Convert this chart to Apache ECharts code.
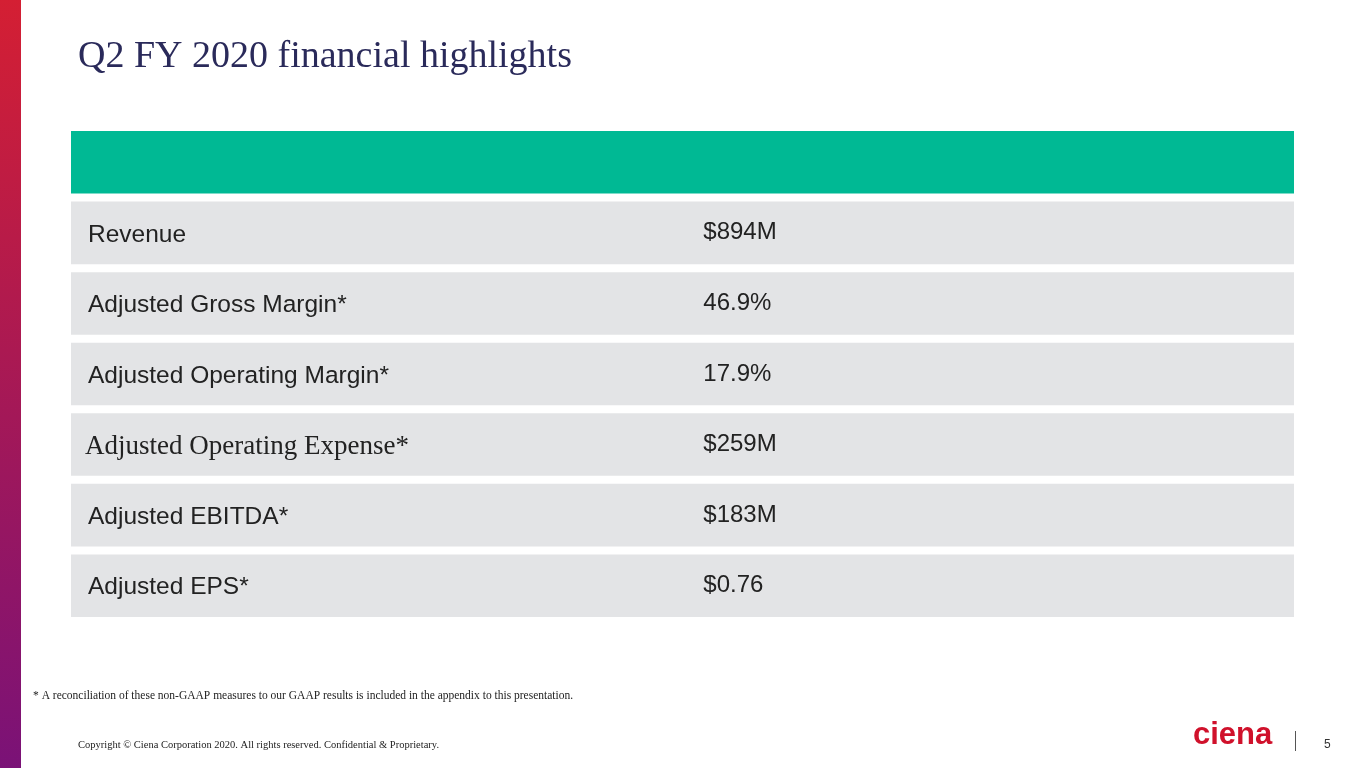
<!DOCTYPE html>
<html style="height: 100%">
<head>
    <meta charset="utf-8">
</head>
<body style="height: 100%; margin: 0">
<div id="container" style="height: 100%"></div>
<script type="text/javascript" src="https://cdn.jsdelivr.net/npm/echarts@6/dist/echarts.min.js"></script>
<script type="text/javascript">
  // rows of the highlights table (first one is the green header)
  const metrics = ['', 'Revenue', 'Adjusted Gross Margin*', 'Adjusted Operating Margin*',
    'Adjusted Operating Expense*', 'Adjusted EBITDA*', 'Adjusted EPS*'];
  const values = ['', '$894M', '46.9%', '17.9%', '$259M', '$183M', '$0.76'];
  const serifRows = [4];

  var dom = document.getElementById("container");
  var myChart = echarts.init(dom);
  var option;

  function renderRow (params, api) {
    var i = api.value(0);
    var left = api.coord([0, i]);
    var right = api.coord([1, i]);
    var mid = api.coord([0.517, i]);
    var h = api.size([0, 1])[1] - 8;
    var header = i === 0;
    var serif = serifRows.indexOf(i) >= 0;
    var font = serif ? '27px Liberation Serif' : '24.5px Liberation Sans';
    return {
      type: 'group',
      children: [
        {
          type: 'rect',
          shape: { x: left[0], y: left[1] - h / 2, width: right[0] - left[0], height: h },
          style: { fill: header ? '#00b994' : '#e3e4e6' }
        },
        {
          type: 'text',
          style: { text: metrics[i], x: left[0] + (serif ? 14 : 17), y: left[1] + 2, verticalAlign: 'middle',
            font: font, fill: '#222' }
        },
        {
          type: 'text',
          style: { text: values[i], x: mid[0], y: left[1], verticalAlign: 'middle',
            font: '24px Liberation Sans', fill: '#222' }
        }
      ]
    };
  }

  option = {
    backgroundColor: '#fff',
    animation: false,
    grid: { left: 71, right: 71, top: 127, bottom: 147 },
    xAxis: { type: 'value', min: 0, max: 1, show: false },
    yAxis: { type: 'category', inverse: true, data: metrics.map((m, i) => i), show: false },
    series: [{
      type: 'custom',
      renderItem: renderRow,
      data: metrics.map((m, i) => [i])
    }],
    graphic: [
      {
        type: 'rect', left: 0, top: 0, shape: { width: 21, height: 768 },
        style: { fill: new echarts.graphic.LinearGradient(0, 0, 0, 1, [
          { offset: 0, color: '#d41f33' }, { offset: 1, color: '#7a1277' }]) }
      },
      { type: 'text', left: 78, top: 38, style: { text: 'Q2 FY 2020 financial highlights',
        font: '38px Liberation Serif', fill: '#2a2a5a' } },
      { type: 'text', left: 33, top: 690, style: { text: '* A reconciliation of these non-GAAP measures to our GAAP results is included in the appendix to this presentation.',
        font: '11.5px Liberation Serif', fill: '#222' } },
      { type: 'text', left: 78, top: 740, style: { text: 'Copyright \u00a9 Ciena Corporation 2020. All rights reserved. Confidential & Proprietary.',
        font: '10.5px Liberation Serif', fill: '#222' } },
      { type: 'text', left: 1193, top: 720, style: { text: 'ciena', font: 'bold 31px Liberation Sans', fill: '#d0112b' } },
      { type: 'rect', left: 1295, top: 731, shape: { width: 1, height: 20 }, style: { fill: '#555' } },
      { type: 'text', left: 1324, top: 739, style: { text: '5', font: '12px Liberation Sans', fill: '#333' } }
    ]
  };
  myChart.setOption(option);
</script>
</body>
</html>
